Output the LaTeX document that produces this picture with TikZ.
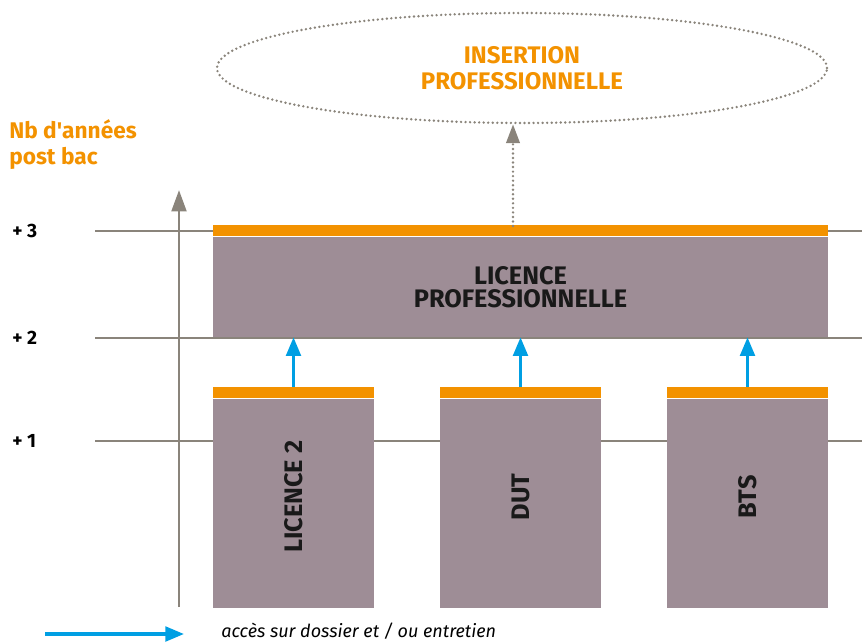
\documentclass[tikz,border=0pt]{standalone}
\usepackage{fontspec}
\setmainfont{Fira Sans}
\usetikzlibrary{arrows.meta,shapes.geometric}

\definecolor{orangefc}{HTML}{F39200}
\definecolor{grisbox}{HTML}{9E8D96}
\definecolor{grisaxe}{HTML}{8A847B}
\definecolor{bleuacces}{HTML}{009FE3}

\tikzset{
    niveau/.style={grisaxe, line width=0.8pt},
    bande/.style={fill=orangefc, inner sep=0pt, minimum height=8.25pt},
    diplome/.style={fill=grisbox, inner sep=0pt},
    libelle/.style={text=black!90, font=\bfseries\fontsize{19}{17.5}\selectfont},
    acces/.style={bleuacces, line width=2.4pt, -{Triangle[width=11pt,length=14pt]}},
    pointille/.style={grisaxe, line width=2pt, line cap=round, dash pattern=on 0pt off 3.4pt},
}

\begin{document}
\begin{tikzpicture}[x=0.75pt, y=-0.75pt]
    \useasboundingbox (0,0) rectangle (862,643);

    % Draw the levels (years after the bac)
    \foreach \y/\n in {231/3, 338/2, 441/1} {
        \draw[niveau] (95,\y) -- (862,\y);
        \node[anchor=west, inner sep=0pt, font=\bfseries\fontsize{14.5}{16}\selectfont] (niv\n) at (12,\y) {+ \n};
    }

    % Draw the axis and its title
    \node[anchor=west, align=left, inner sep=0pt, text=orangefc, font=\bfseries\fontsize{17}{19.5}\selectfont] (titre) at (9,145) {Nb d\textquotesingle années\\post bac};
    \coordinate (axebas) at (179,607);
    \draw[grisaxe, line width=2.2pt, -{Triangle[width=11pt,length=16pt]}] (axebas) -- (179,190);

    % Draw the licence professionnelle
    \node[diplome, minimum width=461.25pt, minimum height=75pt, align=center, libelle] (lp) at (520.5,287) {LICENCE\\PROFESSIONNELLE};
    \node[bande, minimum width=461.25pt, anchor=south] (bandelp) at (lp.north) {};

    % Draw the diplomas at bac + 2
    \foreach \nom/\x/\txt in {lic/293.5/LICENCE 2, dut/520.5/DUT, bts/747.5/BTS} {
        \node[diplome, minimum width=120.75pt, minimum height=156.75pt] (\nom) at (\x,503.5) {};
        \node[bande, minimum width=120.75pt, anchor=south] (bande\nom) at (\nom.north) {};
        \node[libelle, rotate=90] (txt\nom) at ([yshift=5pt]\nom.center) {\txt};
        \draw[acces] (bande\nom.north) -- (bande\nom.north |- lp.south);
    }

    % Draw the insertion professionnelle
    \node[ellipse, pointille, draw, minimum width=457.5pt, minimum height=82.5pt, align=center, text=orangefc, font=\bfseries\fontsize{18}{19.5}\selectfont] (insertion) at (522,68) {INSERTION\\PROFESSIONNELLE};
    \coordinate (depart) at (513,226);
    \draw[pointille, -{Triangle[width=10pt,length=14pt]}] (depart) -- (depart |- insertion.south);

    % Draw the legend
    \coordinate (legende) at (45,634);
    \node[anchor=west, inner sep=0pt, font=\itshape\fontsize{13.5}{16}\selectfont] (texteleg) at (221,631) {accès sur dossier et / ou entretien};
    \draw[acces] (legende) -- ++(139,0);
\end{tikzpicture}
\end{document}
